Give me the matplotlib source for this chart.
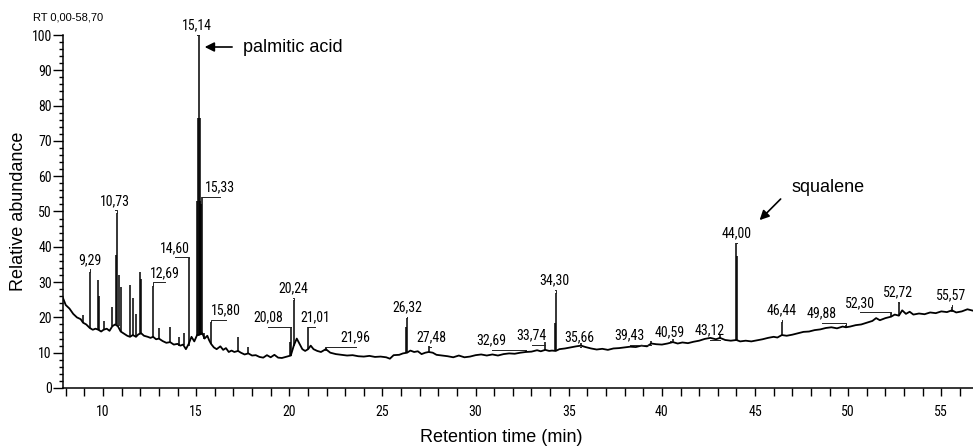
import matplotlib
matplotlib.use('Agg')
import matplotlib.pyplot as plt
from matplotlib import font_manager
from matplotlib.ticker import MultipleLocator


def pick_font(names):
    # first installed family from the list
    for name in names:
        try:
            font_manager.findfont(font_manager.FontProperties(family=name),
                                  fallback_to_default=False)
            return name
        except Exception:
            pass
    return 'DejaVu Sans'


# baseline of the total ion chromatogram (retention time in min, relative abundance in %)
trace_rt = [7.85, 8.0, 8.2, 8.4, 8.6, 8.8, 8.93, 9.1, 9.29, 9.45, 9.6, 9.75, 9.9,
            10.03, 10.2, 10.35, 10.5, 10.65, 10.8, 10.95, 11.1, 11.3, 11.45, 11.6,
            11.77, 11.9, 12.05, 12.2, 12.4, 12.55, 12.69, 12.85, 13.0, 13.2, 13.4,
            13.6, 13.8, 14.0, 14.15, 14.3, 14.45, 14.6, 14.75, 14.9, 15.05, 15.14,
            15.33, 15.45, 15.6, 15.7, 15.8, 15.95, 16.1, 16.3, 16.45, 16.6, 16.75,
            16.9, 17.05, 17.25, 17.4, 17.6, 17.8, 18.0, 18.2, 18.4, 18.6, 18.8, 19.0,
            19.2, 19.4, 19.6, 19.8, 20.08, 20.24, 20.4, 20.55, 20.7, 20.85, 21.01,
            21.15, 21.3, 21.5, 21.7, 21.96, 22.2, 22.5, 22.8, 23.1, 23.4, 23.7, 24.0,
            24.3, 24.6, 24.9, 25.2, 25.4, 25.6, 25.9, 26.1, 26.32, 26.5, 26.7, 26.9,
            27.1, 27.3, 27.48, 27.7, 27.9, 28.2, 28.5, 28.8, 29.1, 29.4, 29.7, 30.0,
            30.3, 30.6, 30.9, 31.2, 31.5, 31.8, 32.1, 32.4, 32.69, 33.0, 33.3, 33.5,
            33.74, 33.95, 34.1, 34.3, 34.5, 34.8, 35.1, 35.4, 35.66, 35.9, 36.2,
            36.5, 36.8, 37.1, 37.4, 37.7, 38.0, 38.3, 38.6, 38.9, 39.2, 39.43, 39.7,
            40.0, 40.3, 40.59, 40.85, 41.1, 41.4, 41.7, 42.0, 42.3, 42.6, 42.9,
            43.12, 43.4, 43.7, 44.0, 44.2, 44.5, 44.8, 45.1, 45.4, 45.7, 46.0, 46.2,
            46.44, 46.7, 47.0, 47.3, 47.6, 47.9, 48.2, 48.5, 48.8, 49.1, 49.4, 49.7,
            49.88, 50.1, 50.4, 50.7, 51.0, 51.3, 51.5, 51.7, 52.0, 52.3, 52.5, 52.72,
            52.9, 53.1, 53.3, 53.5, 53.8, 54.1, 54.4, 54.7, 55.0, 55.3, 55.57, 55.8,
            56.1, 56.4, 56.7]
trace_ab = [25.5, 23.5, 22.5, 21.0, 20.0, 19.5, 18.5, 18.0, 17.0, 16.5, 16.8, 16.5, 16.0,
            16.5, 16.8, 16.2, 17.5, 18.0, 17.5, 16.0, 15.5, 14.8, 14.5, 15.0,
            14.5, 15.2, 15.5, 14.8, 14.5, 14.2, 14.5, 13.8, 14.0, 13.3, 12.8,
            13.0, 12.3, 12.5, 12.0, 12.3, 11.0, 12.5, 14.5, 13.2, 15.0, 15.0,
            15.5, 14.0, 14.8, 13.5, 12.5, 11.5, 11.0, 11.8, 10.8, 11.3, 10.2,
            10.6, 10.2, 10.5, 10.0, 9.5, 9.8, 9.2, 9.3, 8.8, 8.6, 9.3, 8.7,
            9.4, 8.6, 8.5, 8.8, 9.2, 12.0, 14.0, 12.5, 11.0, 10.5, 11.0,
            12.0, 11.0, 10.5, 10.2, 11.0, 10.0, 9.6, 9.4, 9.2, 9.3, 9.0, 8.9,
            9.1, 8.8, 8.9, 8.7, 8.3, 9.3, 9.4, 9.8, 10.0, 10.6, 10.2, 10.4,
            9.6, 10.0, 10.2, 10.0, 9.4, 9.2, 9.0, 8.7, 9.2, 8.7, 8.9, 9.3,
            9.5, 9.2, 9.5, 9.2, 9.6, 9.8, 9.7, 10.0, 10.2, 10.3, 10.7, 10.4,
            10.8, 10.5, 10.6, 10.5, 11.0, 11.2, 11.5, 11.8, 12.0, 11.6, 11.2,
            10.9, 11.1, 10.8, 11.2, 11.3, 11.5, 11.7, 11.6, 12.0, 11.8, 12.6, 12.4,
            12.3, 12.6, 13.0, 12.6, 12.9, 12.7, 13.1, 13.4, 13.9, 14.2, 13.8,
            14.2, 13.6, 13.4, 13.6, 13.2, 13.4, 13.2, 13.5, 13.8, 14.2, 14.5, 14.3,
            15.0, 14.8, 15.1, 15.5, 15.9, 16.0, 16.4, 16.6, 17.0, 17.2, 16.9, 17.4,
            17.2, 17.4, 17.8, 18.0, 18.5, 19.0, 19.8, 19.2, 19.8, 20.2, 20.8, 20.5,
            22.0, 21.0, 21.6, 20.8, 21.1, 20.9, 21.4, 21.2, 21.7, 21.5, 22.0, 21.4,
            21.7, 22.3, 21.9]

# labelled peaks: retention time, base and apex
peak_rt = [9.29, 10.73, 12.69, 14.60, 15.14, 15.33, 15.80, 20.08, 20.24, 21.01,
           21.96, 26.32, 27.48, 32.69, 33.74, 34.30, 35.66, 39.43, 40.59, 43.12,
           44.00, 46.44, 49.88, 52.30, 52.72, 55.57]
peak_base = [17.0, 17.8, 14.5, 12.0, 15.0, 15.5, 12.5, 9.2, 12.0, 11.0,
             10.5, 10.0, 10.2, 10.2, 10.8, 10.5, 12.0, 12.6, 13.0, 14.2,
             13.6, 15.0, 17.2, 20.2, 20.5, 21.5]
peak_top = [33.0, 49.6, 28.9, 36.8, 100.0, 54.0, 18.7, 17.3, 25.0, 17.3,
            11.5, 19.8, 11.8, 10.8, 13.0, 27.0, 12.8, 13.4, 14.0, 15.0,
            41.0, 18.8, 17.8, 21.3, 24.0, 23.0]

# unlabelled spikes
spike_rt = [8.93, 9.72, 9.78, 10.03, 10.47, 10.68, 10.86, 10.97, 11.45, 11.60,
            11.77, 11.98, 12.03, 13.00, 13.60, 14.10, 14.35, 15.06, 15.10, 15.18,
            15.22, 15.26, 15.42, 17.25, 17.80, 20.03, 26.27, 34.24, 44.05]
spike_base = [18.5, 16.5, 16.5, 16.5, 17.5, 18.0, 17.5, 16.0, 14.5, 15.0,
              14.5, 15.5, 15.5, 14.0, 13.0, 12.0, 12.3, 15.0, 15.0, 15.0,
              15.0, 15.0, 14.0, 10.5, 9.8, 9.0, 10.0, 10.5, 13.6]
spike_top = [20.7, 30.6, 26.0, 19.0, 23.0, 37.7, 32.0, 28.6, 29.2, 25.5,
             21.0, 32.9, 31.0, 17.0, 17.3, 14.4, 15.6, 53.0, 76.5, 76.5,
             53.0, 52.0, 15.6, 14.4, 11.6, 13.0, 17.3, 18.4, 37.5]

narrow = pick_font(['Liberation Sans Narrow', 'Roboto Condensed', 'Liberation Sans'])
regular = pick_font(['Liberation Sans', 'Arial', 'DejaVu Sans'])
plt.rcParams['font.family'] = [narrow, 'DejaVu Sans']

fig = plt.figure(figsize=(9.73, 4.47), dpi=100)
ax = fig.add_axes([0.0647, 0.132, 0.9353, 0.7897])

ax.plot(trace_rt, trace_ab, color='black', lw=1.3)
ax.vlines(spike_rt, spike_base, spike_top, color='black', lw=1.1)
ax.vlines(peak_rt, peak_base, peak_top, color='black', lw=1.1)

# label positions (rt, abundance) for each labelled peak, same order as peak_rt
label_xy = [(9.30, 36.3), (10.64, 53.0), (13.33, 32.6), (13.86, 39.7), (15.04, 102.8),
            (16.28, 56.9), (16.60, 22.1), (18.85, 20.1), (20.19, 28.3), (21.37, 20.1),
            (23.57, 14.4), (26.31, 22.9), (27.60, 14.4), (30.87, 13.6), (33.02, 15.0),
            (34.25, 30.6), (35.59, 14.4), (38.27, 15.0), (40.42, 15.9), (42.56, 16.4),
            (44.01, 43.9), (46.43, 22.1), (48.57, 21.2), (50.61, 24.1), (52.65, 27.2),
            (55.55, 26.3)]
for rt, top, (lx, ly) in zip(peak_rt, peak_top, label_xy):
    ax.text(lx, ly, f'{rt:.2f}'.replace('.', ','), ha='center', va='center',
            fontsize=10, clip_on=False)
    uy = ly - 2.7
    ax.plot([rt, rt, lx], [min(top, uy), uy, uy], color='#222222', lw=0.7,
            clip_on=False)

# arrows for the two named compounds
ax.annotate('', xy=(15.31, 96.6), xytext=(17.08, 96.6),
            arrowprops=dict(arrowstyle='-|>', color='black', lw=1.2, mutation_scale=14))
ax.text(17.5, 96.6, 'palmitic acid', ha='left', va='center', fontsize=13,
        family=regular)
ax.annotate('', xy=(45.14, 47.0), xytext=(46.48, 54.1),
            arrowprops=dict(arrowstyle='-|>', color='black', lw=1.2, mutation_scale=14))
ax.text(46.96, 56.9, 'squalene', ha='left', va='center', fontsize=13, family=regular)

ax.set_xlim(7.85, 56.7)
ax.set_ylim(0, 100)
ax.xaxis.set_major_locator(MultipleLocator(5))
ax.xaxis.set_minor_locator(MultipleLocator(1))
ax.yaxis.set_major_locator(MultipleLocator(10))
ax.yaxis.set_minor_locator(MultipleLocator(2))
ax.tick_params(axis='x', which='both', direction='out', length=6, width=1,
               pad=6, labelsize=10)
ax.tick_params(axis='y', which='major', direction='out', length=7, width=1,
               pad=1, labelsize=10)
ax.tick_params(axis='y', which='minor', direction='out', length=3, width=1)
for side in ['top', 'right']:
    ax.spines[side].set_visible(False)
for side in ['left', 'bottom']:
    ax.spines[side].set_linewidth(1.1)

fig.text(501 / 973, 1 - 437 / 447, 'Retention time (min)', ha='center', va='center',
         fontsize=13, family=regular)
fig.text(19 / 973, 1 - 211 / 447, 'Relative abundance', ha='center', va='center',
         rotation=90, fontsize=13, family=regular)
fig.text(33 / 973, 1 - 18 / 447, 'RT 0,00-58,70', ha='left', va='center', fontsize=8,
         family=regular)

fig.savefig('out.png', dpi=100)
